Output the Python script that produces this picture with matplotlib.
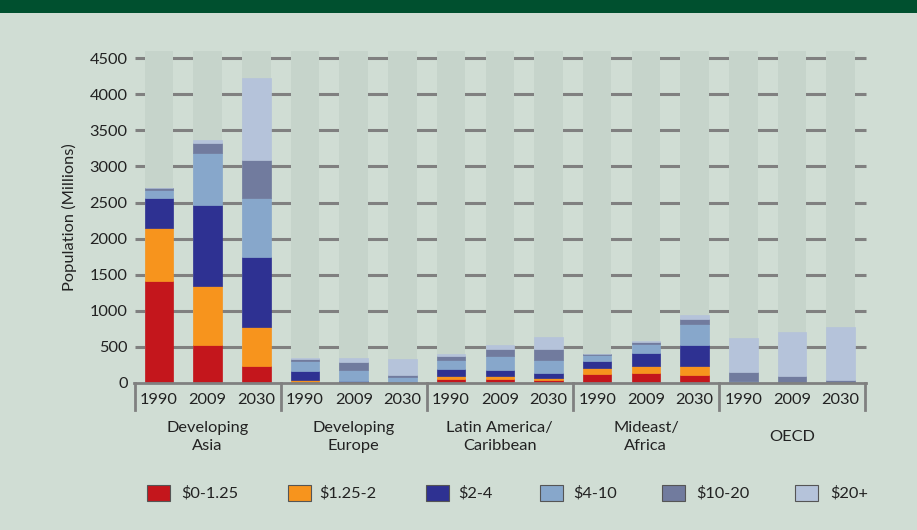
import matplotlib.pyplot as plt
from matplotlib.patches import Rectangle
import numpy as np

plt.rcParams['font.family'] = ['Lato', 'DejaVu Sans']

years = ["1990", "2009", "2030"] * 5
regions = ["Developing\nAsia", "Developing\nEurope", "Latin America/\nCaribbean",
           "Mideast/\nAfrica", "OECD"]
series_names = ["$0-1.25", "$1.25-2", "$2-4", "$4-10", "$10-20", "$20+"]

# population (millions) per income band, one value per bar
s_0_125 = [1420, 530, 230, 5, 3, 2, 60, 60, 46, 129, 134, 115, 0, 0, 0]
s_125_2 = [730, 820, 550, 37, 5, 3, 43, 35, 27, 83, 106, 125, 0, 0, 0]
s_2_4 = [420, 1110, 970, 128, 24, 13, 87, 85, 70, 97, 175, 291, 3, 2, 2]
s_4_10 = [110, 720, 820, 135, 148, 65, 125, 194, 172, 83, 130, 282, 27, 18, 8]
s_10_20 = [15, 150, 520, 27, 115, 28, 59, 96, 155, 5, 27, 69, 122, 77, 32]
s_20p = [5, 40, 1130, 13, 47, 221, 26, 56, 167, 3, 8, 60, 467, 609, 734]
background = [4600] * 15
y_ticks = [0, 500, 1000, 1500, 2000, 2500, 3000, 3500, 4000, 4500]

colors = ["#C4161C", "#F7941D", "#2E3192", "#87A7CB", "#717B9E", "#B5C3DA"]
bg_color = "#D0DDD4"
bar_bg = "#C6D4CB"
grid_color = "#808080"
txt = "#222222"
fs = 11.8

fig = plt.figure(figsize=(9.17, 5.30), dpi=100)
fig.patch.set_facecolor(bg_color)

# dark green band at top
fig.patches.append(Rectangle((0, 1 - 13 / 530), 1, 13 / 530, transform=fig.transFigure,
                             facecolor="#00502F", edgecolor="none"))

ax = fig.add_axes([134.6 / 917, (530 - 383) / 530, 730.4 / 917, 332 / 530])
ax.set_facecolor("none")
for sp in ax.spines.values():
    sp.set_visible(False)

x = np.arange(len(years))
w = 0.585

# gridlines behind bars
ax.hlines(y_ticks[1:], -0.5, 14.52, colors=grid_color, linewidth=2.2, zorder=0, clip_on=False)
ax.bar(x, background, width=w, color=bar_bg, zorder=1)

bottom = np.zeros(len(x))
for vals, c in zip([s_0_125, s_125_2, s_2_4, s_4_10, s_10_20, s_20p], colors):
    ax.bar(x, vals, width=w, bottom=bottom, color=c, edgecolor=c, linewidth=0.5, zorder=2)
    bottom += np.array(vals)

ax.set_xlim(-0.5, 14.5)
ax.set_ylim(0, 4600)
ax.set_yticks(y_ticks)
ax.set_yticklabels([str(t) for t in y_ticks], fontsize=fs, color=txt)
ax.tick_params(axis="y", length=0, pad=5)
ax.set_xticks([])
ax.set_ylabel("Population (Millions)", fontsize=fs, color=txt, labelpad=9)

# category boxes under the bars
tr = ax.get_xaxis_transform()
box_depth = -27 / 332
ax.plot([-0.52, 14.52], [0, 0], color=grid_color, linewidth=2, transform=tr, clip_on=False, zorder=3)
for b in [-0.5, 2.5, 5.5, 8.5, 11.5, 14.5]:
    ax.plot([b, b], [0, box_depth], color=grid_color, linewidth=2, transform=tr, clip_on=False)

for xi, yr in zip(x, years):
    ax.text(xi, -17 / 332, yr, transform=tr, ha="center", va="center", fontsize=fs, color=txt)
for i, reg in enumerate(regions):
    ax.text(3 * i + 1, -54 / 332, reg, transform=tr, ha="center", va="center", fontsize=fs,
            color=txt, linespacing=1.45)

# legend
patch_x = [147, 288, 426, 540, 662, 795]
text_x = [181, 319, 458, 573, 696, 830]
for px, tx, name, c in zip(patch_x, text_x, series_names, colors):
    fig.patches.append(Rectangle((px / 917, (530 - 501) / 530), 23 / 917, 16 / 530,
                                 transform=fig.transFigure, facecolor=c,
                                 edgecolor="#555555", linewidth=0.8))
    fig.text(tx / 917, (530 - 493) / 530, name, ha="left", va="center", fontsize=fs, color=txt)

fig.savefig("out.png", dpi=100, facecolor=fig.get_facecolor())
